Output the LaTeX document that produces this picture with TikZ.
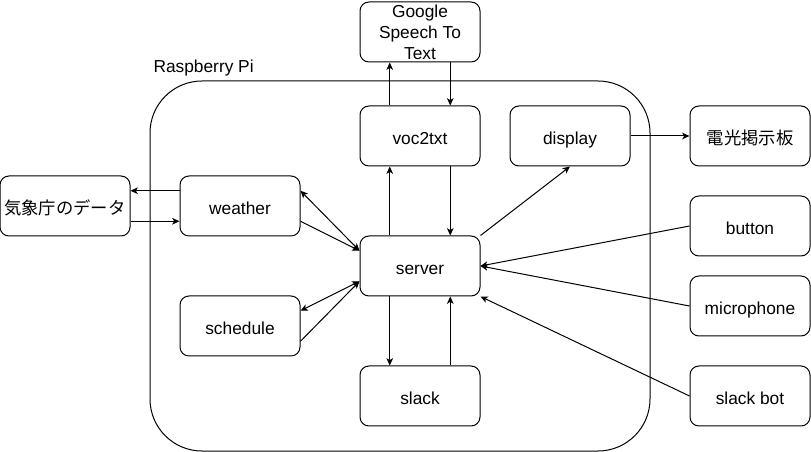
\documentclass[tikz,border=0pt]{standalone}
\usepackage{fontspec}
\setmainfont{Liberation Sans}
\newfontfamily\jpfont{Noto Sans CJK JP}
\usetikzlibrary{arrows.meta, positioning, calc}

\begin{document}
\begin{tikzpicture}[x=0.75pt, y=-0.75pt, line width=0.75pt,
    >={Stealth[length=5.5pt, width=5pt, inset=1.5pt]},
    box/.style={draw, rounded corners=6.75pt, minimum width=90pt, minimum height=45pt,
        inner sep=0pt, align=center, font=\fontsize{13}{15.75}\selectfont},
    line/.style={text height=15pt, text depth=1.5pt},
    container/.style={draw, rounded corners=39pt, minimum width=375pt, minimum height=277.5pt, inner sep=0pt}]
\useasboundingbox (0,0) rectangle (811,452);

% Raspberry Pi frame
\node[container] (pi) at (400,266) {};
\node[anchor=west, inner sep=0pt, font=\fontsize{13}{15.75}\selectfont] (pilabel) at (153,68) {Raspberry Pi};

% Boxes
\node[box] (google) at (420,32) {Google\\Speech To\\Text};
\foreach \name/\x/\y/\txt in {voc/420/136/voc2txt, disp/570/136/display, board/750/136/{\jpfont 電光掲示板},
    weather/240/206/weather, server/420/266/server, sched/240/326/schedule,
    slack/420/396/slack, button/750/226/button, mic/750/306/microphone,
    bot/750/396/slack bot} {
    \node[box, line] (\name) at (\x,\y) {\txt};
}
\node[box, line, minimum width=97.5pt] (jma) at (65,206) {\jpfont 気象庁のデータ};

% voc2txt <-> Google
\draw[->] ($(voc.north west)!0.25!(voc.north east)$) -- ($(google.south west)!0.25!(google.south east)$);
\draw[->] ($(google.south west)!0.75!(google.south east)$) -- ($(voc.north west)!0.75!(voc.north east)$);

% server <-> voc2txt
\draw[->] ($(server.north west)!0.25!(server.north east)$) -- ($(voc.south west)!0.25!(voc.south east)$);
\draw[->] ($(voc.south west)!0.75!(voc.south east)$) -- ($(server.north west)!0.75!(server.north east)$);

% server <-> slack
\draw[->] ($(server.south west)!0.25!(server.south east)$) -- ($(slack.north west)!0.25!(slack.north east)$);
\draw[->] ($(slack.north west)!0.75!(slack.north east)$) -- ($(server.south west)!0.75!(server.south east)$);

% display
\draw[->] (server.north east) -- (disp.south);
\draw[->] (disp.east) -- (board.west);

% inputs
\draw[->] (button.west) -- (server.east);
\draw[->] (mic.west) -- (server.east);
\draw[->] (bot.west) -- (server.south east);

% weather data
\coordinate (wa) at ($(weather.north west)!0.25!(weather.south west)$);
\coordinate (jb) at ($(jma.north east)!0.75!(jma.south east)$);
\draw[->] (wa) -- (wa -| jma.east);
\draw[->] (jb) -- (jb -| weather.west);

% weather / schedule <-> server
\draw[<->] ($(weather.north east)!0.25!(weather.south east)$) -- ($(server.north west)!0.25!(server.south west)$);
\draw[->] ($(weather.north east)!0.75!(weather.south east)$) -- ($(server.north west)!0.25!(server.south west)$);
\draw[<->] ($(sched.north east)!0.25!(sched.south east)$) -- ($(server.north west)!0.75!(server.south west)$);
\draw[->] ($(sched.north east)!0.75!(sched.south east)$) -- ($(server.north west)!0.75!(server.south west)$);
\end{tikzpicture}
\end{document}
